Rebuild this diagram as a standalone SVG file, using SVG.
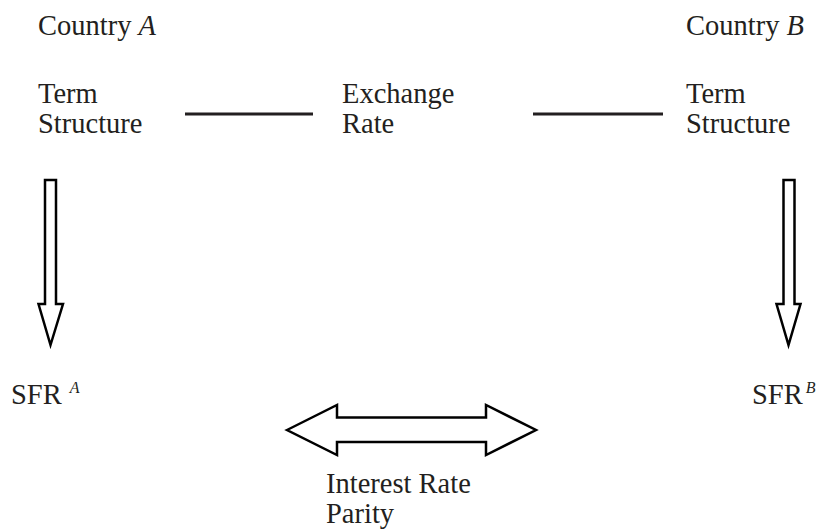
<svg xmlns="http://www.w3.org/2000/svg" width="819" height="532" viewBox="0 0 819 532">
<style>
text{font-family:"Liberation Serif","Times New Roman",serif;font-size:28.5px;fill:#231f20}
.it{font-style:italic}
.sup{font-size:16px;font-style:italic}
.ln{stroke:#231f20;stroke-width:3;fill:none}
.arr{stroke:#000;stroke-width:2.5;fill:#fff;stroke-linejoin:miter}
</style>
<rect width="819" height="532" fill="#fff"/>
<g id="countryA"><text x="38" y="35">Country <tspan class="it">A</tspan></text></g>
<g id="countryB"><text x="686" y="35">Country <tspan class="it">B</tspan></text></g>
<g id="termA"><text x="38" y="103">Term</text><text x="38" y="133">Structure</text></g>
<g id="exchange"><text x="342" y="103">Exchange</text><text x="342" y="133">Rate</text></g>
<g id="termB"><text x="686" y="103">Term</text><text x="686" y="133">Structure</text></g>
<g id="sfrA"><text x="11" y="404">SFR<tspan class="sup" dx="8" dy="-11">A</tspan></text></g>
<g id="sfrB"><text x="752" y="404">SFR<tspan class="sup" dx="3" dy="-11">B</tspan></text></g>
<g id="irp"><text x="326" y="493">Interest Rate</text><text x="326" y="523">Parity</text></g>
<g id="connectors">
<line class="ln" x1="185" y1="114" x2="313" y2="114"/>
<line class="ln" x1="533" y1="114" x2="663" y2="114"/>
<polygon class="arr" points="45,180 56,180 56,304 63,304 50.5,345 38.5,304 45,304"/>
<polygon class="arr" points="783.5,180 794.5,180 794.5,304 800.5,304 788.5,345 776.5,304 783.5,304"/>
<polygon class="arr" points="287,430 337,405 337,417.5 486,417.5 486,405 536,430 486,455 486,442 337,442 337,455"/>
</g>
</svg>
